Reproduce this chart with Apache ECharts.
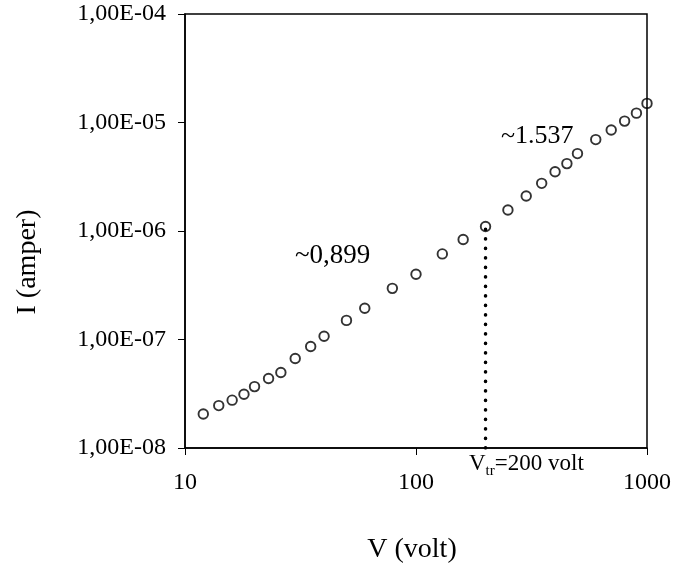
<!DOCTYPE html>
<html>
<head>
<meta charset="utf-8">
<script src="https://cdn.jsdelivr.net/npm/echarts@6/dist/echarts.min.js"></script>
<style>
  html, body { margin: 0; padding: 0; background: #fff; }
  #chart { width: 674px; height: 571px; }
</style>
</head>
<body>
<div id="chart"></div>
<script>
// Voltage (V) and current (A) measured across the sample
const voltage = [12, 14, 16, 18, 20, 23, 26, 30, 35, 40, 50, 60, 79, 100, 130, 160,
                 200, 250, 300, 350, 400, 450, 500, 600, 700, 800, 900, 1000];
const current = [2.06e-8, 2.46e-8, 2.76e-8, 3.13e-8, 3.68e-8, 4.37e-8, 4.96e-8, 6.68e-8,
                 8.63e-8, 1.07e-7, 1.50e-7, 1.94e-7, 2.96e-7, 3.99e-7, 6.15e-7, 8.35e-7,
                 1.10e-6, 1.56e-6, 2.10e-6, 2.75e-6, 3.52e-6, 4.18e-6, 5.17e-6, 6.96e-6,
                 8.53e-6, 1.03e-5, 1.22e-5, 1.50e-5];

// Transition voltage marker: from the bottom of the axis up to the measured point
const transitionV = 200;
const transitionI = 1.10e-6;
const axisMinI = 1e-8;

// Tick labels
const xTickLabels = ['10', '100', '1000'];
const yTickLabels = ['1,00E-08', '1,00E-07', '1,00E-06', '1,00E-05', '1,00E-04'];

// Slope annotations
const slopeLow = '~0,899';
const slopeHigh = '~1.537';

const FONT = '"Liberation Serif", "Times New Roman", serif';
const chart = echarts.init(document.getElementById('chart'), null, { renderer: 'canvas' });

const points = voltage.map((v, i) => [v, current[i]]);

chart.setOption({
  backgroundColor: '#fff',
  animation: false,
  grid: {
    left: 185, right: 27, top: 14, bottom: 123,
    show: true, borderColor: '#000', borderWidth: 1.5, backgroundColor: 'transparent'
  },
  xAxis: {
    type: 'log', logBase: 10, min: 10, max: 1000, splitNumber: 2,
    axisLine: { show: true, lineStyle: { color: '#000', width: 1.5 } },
    axisTick: { show: true, inside: false, length: 7, lineStyle: { color: '#000', width: 1 } },
    minorTick: { show: false },
    splitLine: { show: false },
    axisLabel: {
      color: '#000', fontFamily: FONT, fontSize: 24, margin: 23,
      formatter: (val, idx) => xTickLabels[idx] ?? ''
    }
  },
  yAxis: {
    type: 'log', logBase: 10, min: 1e-8, max: 1e-4, splitNumber: 4,
    axisLine: { show: true, lineStyle: { color: '#000', width: 1.5 } },
    axisTick: { show: true, inside: false, length: 7, lineStyle: { color: '#000', width: 1 } },
    splitLine: { show: false },
    axisLabel: {
      color: '#000', fontFamily: FONT, fontSize: 24, margin: 19,
      formatter: (val, idx) => yTickLabels[idx] ?? ''
    }
  },
  series: [
    {
      // dotted drop line at the transition voltage
      type: 'line',
      data: [[transitionV, axisMinI], [transitionV, transitionI]],
      symbol: 'none',
      silent: true,
      z: 1,
      lineStyle: { color: '#000', width: 3.6, type: [0.1, 9.4], cap: 'round' }
    },
    {
      type: 'scatter',
      data: points,
      symbol: 'circle',
      symbolSize: 9.5,
      z: 2,
      itemStyle: { color: 'rgba(255,255,255,0)', borderColor: '#000', borderWidth: 1.9 }
    }
  ],
  graphic: [
    {
      type: 'text', x: 28, y: 262, rotation: Math.PI / 2,
      style: { text: 'I (amper)', font: '28px ' + FONT, fill: '#000', align: 'center', verticalAlign: 'middle' }
    },
    {
      type: 'text', x: 412, y: 550,
      style: { text: 'V (volt)', font: '28px ' + FONT, fill: '#000', align: 'center', verticalAlign: 'middle' }
    },
    {
      type: 'text', x: 295, y: 256,
      style: { text: slopeLow, font: '27px ' + FONT, fill: '#000', align: 'left', verticalAlign: 'middle' }
    },
    {
      type: 'text', x: 501, y: 136,
      style: { text: slopeHigh, font: '26px ' + FONT, fill: '#000', align: 'left', verticalAlign: 'middle' }
    },
    {
      type: 'text', x: 469, y: 479,
      style: {
        text: '{v|V}{s|tr}{v|=200 volt}',
        align: 'left', verticalAlign: 'bottom',
        rich: {
          v: { font: '23px ' + FONT, fill: '#000', verticalAlign: 'bottom', padding: [0, 0, 4, 0] },
          s: { font: '15px ' + FONT, fill: '#000', verticalAlign: 'bottom' }
        }
      }
    }
  ]
});
</script>
</body>
</html>
